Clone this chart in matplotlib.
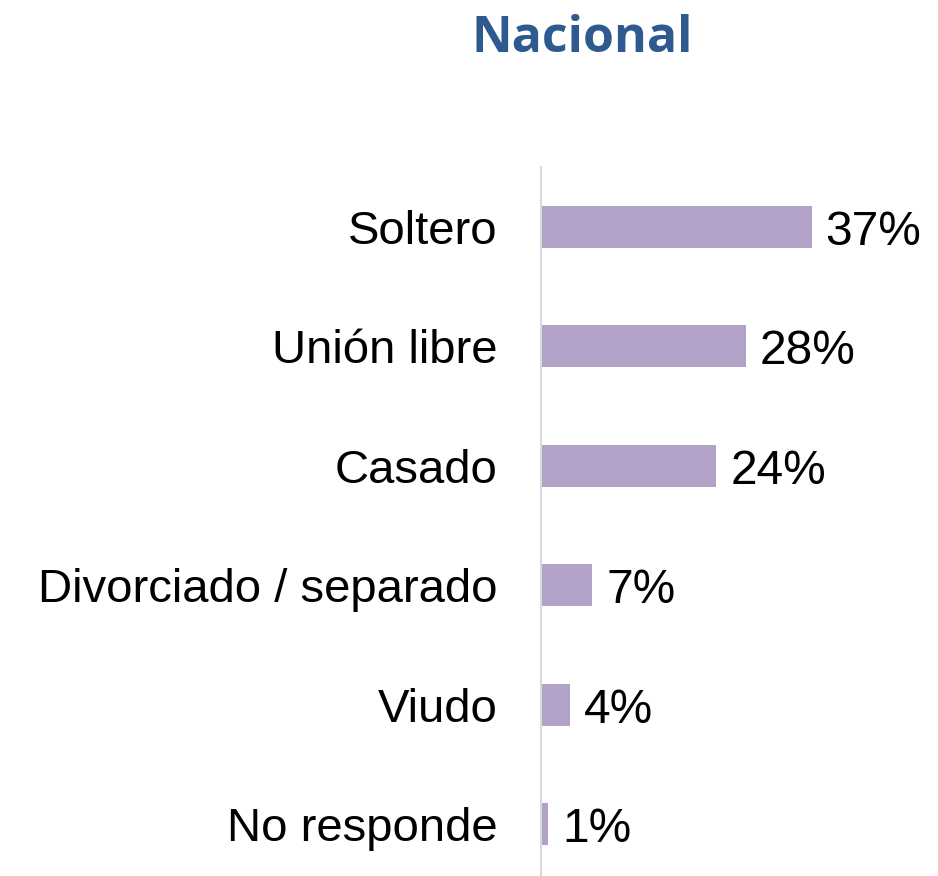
import matplotlib.pyplot as plt

# Data
categories = ["Soltero", "Unión libre", "Casado", "Divorciado / separado", "Viudo", "No responde"]
values = [37, 28, 24, 7, 4, 1]
title = "Nacional"

bar_color = "#B3A2C7"
title_color = "#2F5A8F"

plt.rcParams['font.family'] = ['Liberation Sans', 'DejaVu Sans']

fig = plt.figure(figsize=(9.38, 8.76), dpi=100)
ax = fig.add_axes([541 / 938, 0, 1 - 541 / 938, 1 - 167 / 876])

pos = list(range(len(categories)))
ax.barh(pos, values, height=0.35, color=bar_color)

for p, v in zip(pos, values):
    ax.annotate(f"{v}%", xy=(v, p), xytext=(10, -4), textcoords="offset points",
                ha="left", va="center", fontsize=34.5, color="black")

ax.set_xlim(0, 54.3)
ax.set_ylim(5.433, -0.5)
ax.set_yticks(pos)
ax.set_yticklabels(categories, fontsize=34)
ax.tick_params(axis="y", length=0, pad=31)
ax.set_xticks([])

for side in ["top", "right", "bottom"]:
    ax.spines[side].set_visible(False)
ax.spines["left"].set_color("#D9D9D9")
ax.spines["left"].set_linewidth(1.5)

fig.text(582 / 938, 1 - 39 / 876, title, ha="center", va="center",
         fontsize=36, fontweight="bold", color=title_color, family="Open Sans")

fig.savefig("out.png", dpi=100)
